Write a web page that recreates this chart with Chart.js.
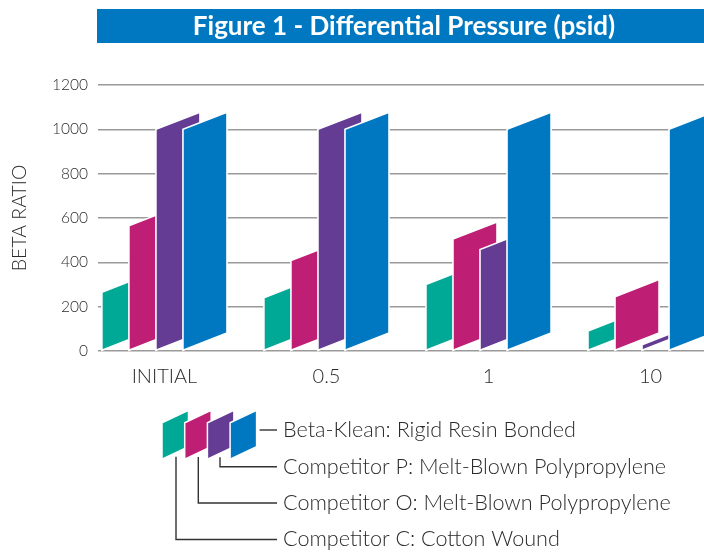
<!DOCTYPE html>
<html>
<head>
<meta charset="utf-8">
<title>Figure 1 - Differential Pressure (psid)</title>
<script src="https://cdn.jsdelivr.net/npm/chart.js@4.4.1/dist/chart.umd.min.js"></script>
<style>
  html, body { margin: 0; padding: 0; background: #ffffff; overflow: hidden; }
  #wrap { width: 704px; height: 552px; position: relative; }
</style>
</head>
<body>
<div id="wrap"><canvas id="chart" width="704" height="552"></canvas></div>
<script>
// Differential pressure steps (psid)
const categories = ['INITIAL', '0.5', '1', '10'];

// Filter types, in drawing order (back to front)
const seriesNames = [
  'Competitor C: Cotton Wound',
  'Competitor O: Melt-Blown Polypropylene',
  'Competitor P: Melt-Blown Polypropylene',
  'Beta-Klean: Rigid Resin Bonded'
];

// Beta ratio at each pressure step
const cottonWound  = [265, 240, 300, 90];
const meltBlownO   = [565, 408, 505, 245];
const meltBlownP   = [1000, 1000, 458, 28];
const betaKlean    = [1000, 1000, 1000, 1000];

const yTicks = [0, 200, 400, 600, 800, 1000, 1200];

const titleText = 'Figure 1 - Differential Pressure (psid)';
const yTitle = 'BETA RATIO';

const seriesColors = ['#00A896', '#BE1E73', '#643C93', '#0078C1'];
const seriesValues = [cottonWound, meltBlownO, meltBlownP, betaKlean];

const SLANT = 0.39;           // rise of the top/bottom edges per pixel of bar width
const LIGHT = 'Lato';
const INK = '#2b2b2b';

// Parallelogram bars, drawn back to front from the bar elements' geometry
const slantBars = {
  id: 'slantBars',
  beforeDatasetsDraw(chart) {
    const ctx = chart.ctx;
    ctx.save();
    chart.data.datasets.forEach((ds, i) => {
      const meta = chart.getDatasetMeta(i);
      meta.data.forEach(bar => {
        const { x, y, base, width } = bar.getProps(['x', 'y', 'base', 'width'], true);
        const left = x - width / 2;
        const right = x + width / 2;
        const rise = width * SLANT;
        ctx.beginPath();
        ctx.moveTo(left, base);
        ctx.lineTo(left, y);
        ctx.lineTo(right, y - rise);
        ctx.lineTo(right, base - rise);
        ctx.closePath();
        ctx.fillStyle = ds.backgroundColor;
        ctx.fill();
        ctx.lineWidth = 1.6;
        ctx.strokeStyle = '#ffffff';
        ctx.stroke();
      });
    });
    ctx.restore();
    return false;
  }
};

// Blue heading band
const headingBand = {
  id: 'headingBand',
  beforeDraw(chart) {
    const ctx = chart.ctx;
    ctx.save();
    ctx.fillStyle = '#0078C1';
    ctx.fillRect(97, 9, chart.width - 97, 34);
    ctx.fillStyle = '#ffffff';
    ctx.font = 'bold 26px ' + LIGHT;
    ctx.textAlign = 'center';
    ctx.textBaseline = 'middle';
    ctx.fillText(titleText, 404, 27);
    ctx.restore();
  }
};

// Key: stacked slanted swatches with leader lines to each label
const slantKey = {
  id: 'slantKey',
  afterDraw(chart) {
    const ctx = chart.ctx;
    const x0 = 162, step = 22.7, w = 26.5;
    const topY = 422.7, botY = 459.3, rise = 12.5;
    const rowY = [539.5, 503, 466.7, 430];
    const lineX = [176, 198.3, 220];
    const textX = 283, lineEnd = 277;
    ctx.save();
    seriesColors.forEach((c, i) => {
      const l = x0 + i * step;
      ctx.beginPath();
      ctx.moveTo(l, botY);
      ctx.lineTo(l, topY);
      ctx.lineTo(l + w, topY - rise);
      ctx.lineTo(l + w, botY - rise);
      ctx.closePath();
      ctx.fillStyle = c;
      ctx.fill();
      ctx.lineWidth = 1.5;
      ctx.strokeStyle = '#ffffff';
      ctx.stroke();
    });
    ctx.strokeStyle = '#333333';
    ctx.lineWidth = 1.4;
    seriesNames.forEach((name, i) => {
      ctx.beginPath();
      if (i < 3) {
        const lx = lineX[i];
        const l = x0 + i * step;
        const startY = botY - rise * (lx - l) / w + 4;
        ctx.moveTo(lx, startY);
        ctx.lineTo(lx, rowY[i]);
        ctx.lineTo(lineEnd, rowY[i]);
      } else {
        ctx.moveTo(x0 + i * step + w + 3, rowY[i]);
        ctx.lineTo(lineEnd, rowY[i]);
      }
      ctx.stroke();
      ctx.fillStyle = INK;
      ctx.font = '300 21.6px ' + LIGHT;
      ctx.textAlign = 'left';
      ctx.textBaseline = 'middle';
      ctx.fillText(name, textX, rowY[i]);
    });
    ctx.restore();
  }
};

const datasets = seriesNames.map((name, i) => ({
  label: name,
  data: seriesValues[i].map((v, k) => ({ x: k, y: v })),
  backgroundColor: seriesColors[i],
  borderWidth: 0
}));

new Chart(document.getElementById('chart'), {
  type: 'bar',
  data: { datasets },
  plugins: [headingBand, slantBars, slantKey],
  options: {
    responsive: false,
    animation: false,
    devicePixelRatio: 1,
    categoryPercentage: 0.667,
    barPercentage: 1.63,
    layout: { padding: { top: 85, bottom: 149, left: 0, right: 0 } },
    plugins: {
      legend: { display: false },
      tooltip: { enabled: false },
      title: { display: false }
    },
    scales: {
      x: {
        type: 'linear',
        min: -0.41,
        max: 3.33,
        offset: false,
        grid: { display: false, offset: false, drawTicks: false },
        border: { display: false },
        afterBuildTicks(scale) {
          scale.ticks = categories.map((_, i) => ({ value: i }));
        },
        ticks: {
          autoSkip: false,
          maxRotation: 0,
          padding: 14,
          color: INK,
          font: { family: LIGHT, weight: 300, size: 20 },
          callback: (v) => categories[v] ?? ''
        }
      },
      y: {
        min: yTicks[0],
        max: yTicks[yTicks.length - 1],
        afterBuildTicks(scale) {
          scale.ticks = yTicks.map(v => ({ value: v }));
        },
        afterFit(scale) { scale.width = 98; },
        grid: { color: '#9a9a9a', lineWidth: 1.5, drawTicks: false },
        border: { display: false },
        ticks: {
          padding: 10,
          color: INK,
          font: { family: LIGHT, weight: 300, size: 15.5 },
          callback: (v) => String(v)
        },
        title: {
          display: true,
          text: yTitle,
          color: INK,
          padding: { top: 8, bottom: 0 },
          font: { family: LIGHT, weight: 300, size: 19.5 }
        }
      }
    }
  }
});
</script>
</body>
</html>
